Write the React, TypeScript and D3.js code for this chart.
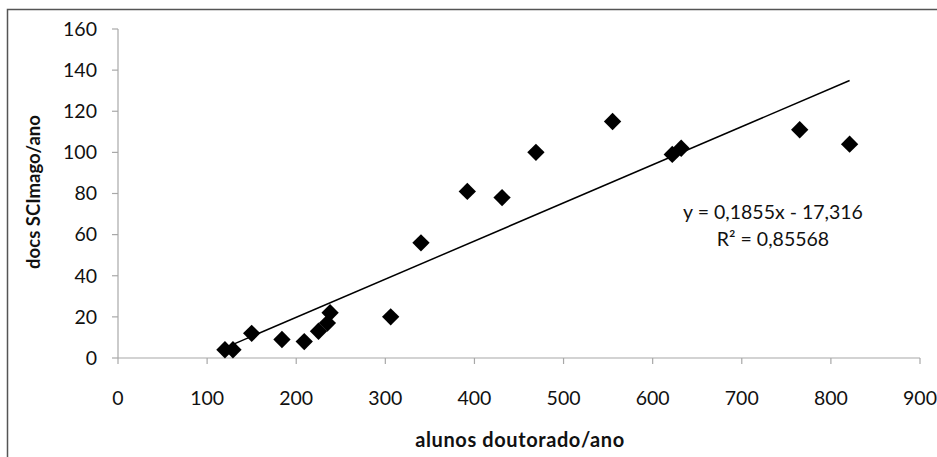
import React from "react";
import * as d3 from "d3";

const alunos = [120, 129, 150, 184, 209, 225, 235, 238, 306, 340, 392, 431, 469, 555, 622, 632, 765, 821];
const docs = [4, 4, 12, 9, 8, 13, 17, 22, 20, 56, 81, 78, 100, 115, 99, 102, 111, 104];
const xTicks = [0, 100, 200, 300, 400, 500, 600, 700, 800, 900];
const yTicks = [0, 20, 40, 60, 80, 100, 120, 140, 160];
const slope = 0.1855;
const intercept = -17.316;
const eqLabel = "y = 0,1855x - 17,316";
const r2Label = "R² = 0,85568";
const xTitle = "alunos doutorado/ano";
const yTitle = "docs SCImago/ano";

const W = 937;
const H = 457;
const left = 118;
const right = 920;
const top = 29;
const bottom = 358;

export default function App() {
  const x = d3.scaleLinear().domain([0, 900]).range([left, right]);
  const y = d3.scaleLinear().domain([0, 160]).range([bottom, top]);
  const font = "Lato, 'Open Sans', sans-serif";
  const xMin = d3.min(alunos) as number;
  const xMax = d3.max(alunos) as number;
  const line = d3.line<number>().x((v) => x(v)).y((v) => y(slope * v + intercept));
  const diamond = d3.symbol().type(d3.symbolSquare).size(150)() as string;
  const axisColor = "#a8a8a8";
  const fs = 19.5;

  return (
    <svg width={W} height={H} style={{ position: "absolute", left: 0, top: 0, background: "#fff" }} fontFamily={font}>
      <rect x={0} y={0} width={W} height={H} fill="#fff" />
      <path d={`M7.5,${H} V9.5 H${W}`} fill="none" stroke="#555" strokeWidth={1.5} />
      {/* axes */}
      <line x1={left} x2={left} y1={top} y2={bottom} stroke={axisColor} strokeWidth={1.2} />
      <line x1={left} x2={right} y1={bottom} y2={bottom} stroke={axisColor} strokeWidth={1.2} />
      {yTicks.map((t) => (
        <g key={"y" + t}>
          <line x1={left - 6} x2={left} y1={y(t)} y2={y(t)} stroke={axisColor} strokeWidth={1.2} />
          <text x={97} y={y(t)} dy="0.35em" textAnchor="end" fontSize={fs} fill="#111">
            {t}
          </text>
        </g>
      ))}
      {xTicks.map((t) => (
        <g key={"x" + t}>
          <line x1={x(t)} x2={x(t)} y1={bottom} y2={bottom + 6} stroke={axisColor} strokeWidth={1.2} />
          <text x={x(t)} y={398} dy="0.35em" textAnchor="middle" fontSize={fs} fill="#111">
            {t}
          </text>
        </g>
      ))}
      {/* trendline */}
      <path d={line([xMin, xMax]) as string} fill="none" stroke="#000" strokeWidth={1.5} />
      {/* points */}
      {alunos.map((a, i) => (
        <path key={i} d={diamond} transform={`translate(${x(a)},${y(docs[i])}) rotate(45)`} fill="#000" />
      ))}
      {/* equation */}
      <text x={773} y={212} dy="0.35em" textAnchor="middle" fontSize={fs} fill="#111">
        {eqLabel}
      </text>
      <text x={773} y={239} dy="0.35em" textAnchor="middle" fontSize={fs} fill="#111">
        {r2Label}
      </text>
      {/* titles */}
      <text x={520} y={440} dy="0.35em" textAnchor="middle" fontSize={20} letterSpacing={0.6} fontWeight="bold" fill="#111">
        {xTitle}
      </text>
      <text transform={`translate(34,192) rotate(-90)`} dy="0.35em" textAnchor="middle" fontSize={18.5} fontWeight="bold" fill="#111">
        {yTitle}
      </text>
    </svg>
  );
}
